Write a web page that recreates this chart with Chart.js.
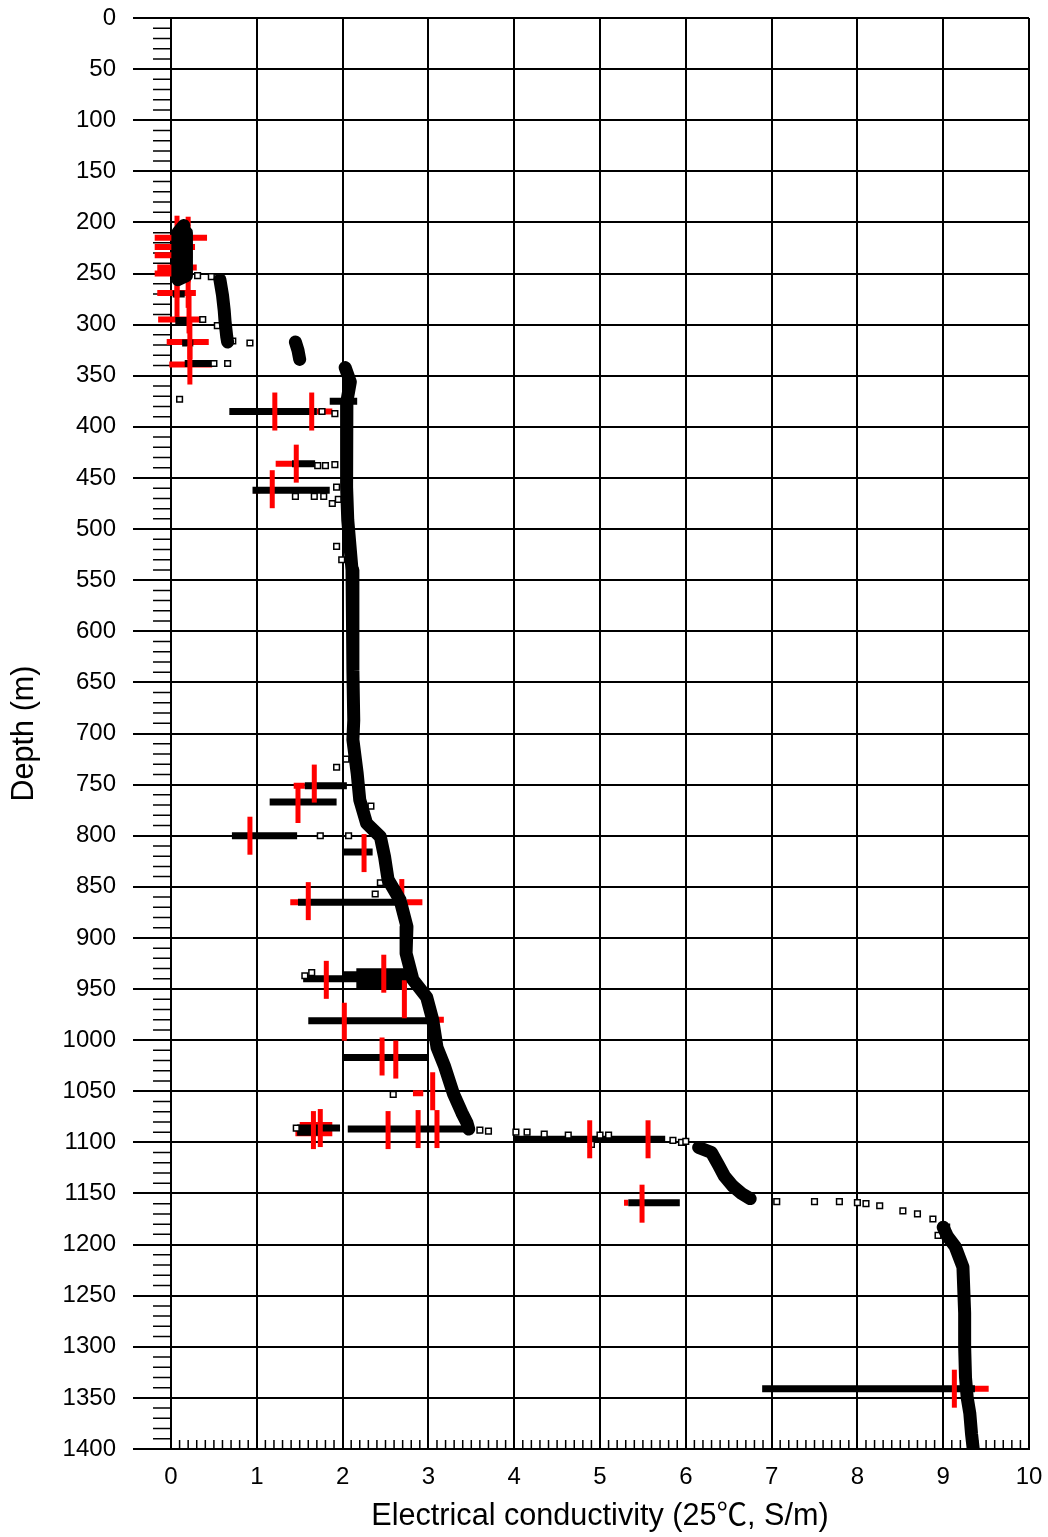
<!DOCTYPE html>
<html>
<head>
<meta charset="utf-8">
<script src="https://cdn.jsdelivr.net/npm/chart.js@4.4.1/dist/chart.umd.min.js"></script>
<style>
  html, body { margin: 0; padding: 0; background: #fff; }
</style>
</head>
<body>
<canvas id="ecChart" width="1048" height="1537"></canvas>
<script>
// 深度ごとの電気伝導度 [伝導度 S/m, 深度 m]
const profileTop = [[0.15, 203], [0.08, 210], [0.08, 256], [0.18, 252], [0.18, 210], [0.12, 206]]
const profileShallow = [[0.57, 256], [0.6, 271], [0.62, 286], [0.63, 297], [0.65, 312], [0.66, 317]]
const profileStep = [[1.45, 317], [1.48, 325], [1.5, 334]]
const profileMain = [
  [2.03, 342], [2.09, 356], [2.05, 375], [2.04, 393], [2.05, 430], [2.05, 459], [2.06, 491],
  [2.11, 540], [2.12, 589], [2.12, 638], [2.13, 687], [2.12, 706], [2.17, 739], [2.2, 765],
  [2.28, 788], [2.44, 801], [2.49, 821], [2.53, 843], [2.67, 863], [2.75, 889], [2.74, 915],
  [2.82, 941], [2.98, 958], [3.05, 980], [3.1, 1007], [3.19, 1026], [3.29, 1052], [3.39, 1071],
  [3.45, 1081], [3.47, 1087]
]
const profileKnee = [[6.15, 1105], [6.3, 1110], [6.38, 1122], [6.45, 1133], [6.55, 1143], [6.65, 1150], [6.75, 1155]]
const profileDeep = [
  [9.0, 1183], [9.05, 1192], [9.14, 1202], [9.23, 1222], [9.25, 1267], [9.25, 1300],
  [9.26, 1330], [9.28, 1350], [9.31, 1365], [9.33, 1385], [9.35, 1400]
]

// 横に連なった測定点 [開始, 終了, 深度]
const streaks = [
  [0.02, 0.16, 270], [0.05, 0.19, 296], [0.13, 0.26, 318], [0.16, 0.51, 338],
  [0.68, 1.7, 385], [1.85, 2.17, 375], [1.41, 1.68, 436], [0.95, 1.85, 462],
  [1.56, 2.05, 751], [1.15, 1.93, 767], [0.71, 1.47, 800], [2.0, 2.35, 816],
  [1.48, 2.73, 865], [1.54, 2.82, 940], [2.16, 2.75, 933], [2.16, 2.75, 946], [2.0, 2.6, 936],
  [1.6, 3.1, 981], [2.0, 3.0, 1017], [2.06, 3.52, 1087], [1.47, 1.97, 1086], [1.47, 1.74, 1090],
  [4.0, 5.76, 1097], [5.33, 5.93, 1159], [6.89, 9.37, 1341]
]

// 単独の測定点
const squares = [
  [0.31, 252], [0.47, 253], [0.37, 295], [0.54, 301], [0.72, 316], [0.92, 318], [0.66, 338],
  [0.5, 338], [0.1, 373], [1.76, 385], [1.91, 387], [1.71, 438], [1.8, 438], [1.91, 437],
  [1.93, 459], [1.88, 475], [1.45, 468], [1.67, 468], [1.78, 468], [1.95, 471], [1.93, 517],
  [1.99, 530], [1.93, 733], [2.04, 725], [2.33, 771], [2.07, 800], [1.74, 800], [2.38, 857],
  [2.44, 846], [1.56, 937], [1.64, 934], [2.59, 1053], [3.6, 1088], [3.7, 1089], [1.46, 1086],
  [4.02, 1090], [4.15, 1090], [4.35, 1092], [4.63, 1093], [5.0, 1093], [5.1, 1093], [4.9, 1102],
  [5.85, 1098], [5.95, 1100], [6.0, 1099], [7.06, 1158], [7.5, 1158], [7.79, 1158], [8.0, 1159],
  [8.1, 1160], [8.26, 1162], [8.53, 1167], [8.7, 1170], [8.88, 1175], [8.94, 1191], [9.04, 1183]
]

// 赤のマーカー: 縦棒 [伝導度, 深度]
const redBars = [
  [0.07, 212], [0.07, 235], [0.07, 255], [0.07, 274],
  [0.2, 213], [0.2, 240], [0.2, 265], [0.21, 290], [0.22, 315], [0.22, 340],
  [1.21, 385], [1.64, 385], [1.46, 436], [1.18, 461], [1.67, 749], [1.48, 769], [0.92, 800],
  [2.25, 817], [1.6, 864], [2.69, 861], [1.81, 941], [2.48, 935], [2.72, 960], [2.02, 982],
  [2.46, 1016], [2.62, 1019], [3.05, 1050], [2.53, 1088], [2.88, 1087], [3.1, 1087],
  [1.66, 1088], [1.74, 1086], [4.88, 1097], [5.56, 1097], [5.49, 1160], [9.13, 1341]
]
// 赤のマーカー: 横棒 [開始, 終了, 深度]
const redSpans = [
  [-0.19, 0.42, 215], [-0.19, 0.28, 224], [-0.19, 0.25, 232], [-0.16, 0.3, 244], [-0.19, 0.16, 250],
  [-0.16, 0.29, 269], [-0.15, 0.34, 295], [-0.05, 0.44, 317], [-0.02, 0.48, 339],
  [1.7, 1.88, 385], [1.22, 1.41, 436], [0.96, 1.04, 462], [1.43, 1.56, 751], [1.39, 1.48, 865],
  [2.75, 2.93, 865], [3.1, 3.18, 980], [2.82, 2.94, 1052], [1.45, 1.88, 1091], [1.5, 1.88, 1083],
  [5.28, 5.33, 1159], [9.1, 9.53, 1341]
]

const xTitle = 'Electrical conductivity (25℃, S/m)'
const yTitle = 'Depth (m)'

const gap = {x: null, y: null}
const pts = (rows) => rows.map(([x, y]) => ({x, y}))
const runs = (list) => list.flatMap((r) => [...pts(r), gap])
const spans = (rows) => rows.flatMap(([x1, x2, y]) => [{x: x1, y}, {x: x2, y}, gap])

const fontFamily = "'Liberation Sans', Arial, 'Noto Sans CJK JP', sans-serif"

// ラベルの分だけ余白が増えないようにする
const fixBox = (size) => (scale) => {
  if (scale.isHorizontal()) scale.height = size
  else scale.width = size
  scale.paddingTop = 0
  scale.paddingBottom = 0
  scale.paddingLeft = 0
  scale.paddingRight = 0
}

// 目盛りの補助線
const minorTicks = {
  id: 'minorTicks',
  beforeDatasetsDraw(chart) {
    const {ctx, chartArea} = chart
    const {x, y} = chart.scales
    ctx.save()
    ctx.strokeStyle = '#000'
    ctx.lineWidth = 1.5
    ctx.beginPath()
    for (let d = 10; d < 1400; d += 10) {
      if (d % 50 === 0) continue
      const py = y.getPixelForValue(d)
      ctx.moveTo(chartArea.left - 18, py)
      ctx.lineTo(chartArea.left, py)
    }
    for (let i = 1; i < 100; i++) {
      if (i % 10 === 0) continue
      const px = x.getPixelForValue(i / 10)
      ctx.moveTo(px, chartArea.bottom)
      ctx.lineTo(px, chartArea.bottom - 9)
    }
    ctx.stroke()
    ctx.restore()
  }
}

new Chart(document.getElementById('ecChart'), {
  type: 'scatter',
  data: {
    datasets: [
      {
        data: runs([profileTop, profileShallow, profileStep, profileMain, profileKnee, profileDeep]),
        showLine: true,
        borderColor: '#000',
        borderWidth: 13,
        borderJoinStyle: 'round',
        borderCapStyle: 'round',
        pointRadius: 0,
        order: 0
      },
      {
        data: pts(redBars),
        pointStyle: 'line',
        pointRotation: 90,
        pointRadius: 19,
        pointBorderWidth: 5,
        pointBorderColor: '#ff0000',
        clip: false,
        order: 1
      },
      {
        data: pts(squares),
        pointStyle: 'rect',
        pointRadius: 4,
        pointBorderWidth: 1.5,
        pointBorderColor: '#000',
        pointBackgroundColor: '#fff',
        order: 2
      },
      {
        data: spans(streaks),
        showLine: true,
        borderColor: '#000',
        borderWidth: 7,
        pointRadius: 0,
        order: 3
      },
      {
        data: spans(redSpans),
        showLine: true,
        borderColor: '#ff0000',
        borderWidth: 6,
        pointRadius: 0,
        clip: false,
        order: 4
      }
    ]
  },
  options: {
    responsive: false,
    animation: false,
    events: [],
    layout: {autoPadding: false, padding: {top: 18, right: 19, bottom: 0, left: 0}},
    plugins: {
      legend: {display: false},
      tooltip: {enabled: false}
    },
    scales: {
      x: {
        type: 'linear',
        position: 'bottom',
        min: 0,
        max: 10,
        afterFit: fixBox(88),
        ticks: {
          stepSize: 1,
          autoSkip: false,
          maxRotation: 0,
          padding: 14,
          color: '#000',
          font: {family: fontFamily, size: 24},
          callback: (value) => String(value)
        },
        grid: {color: '#000', lineWidth: 2, drawTicks: false},
        border: {color: '#000', width: 2},
        title: {
          display: true,
          text: xTitle,
          color: '#000',
          padding: {top: 0, bottom: 2},
          font: {family: fontFamily, size: 30.6}
        }
      },
      y: {
        type: 'linear',
        reverse: true,
        min: 0,
        max: 1400,
        afterFit: fixBox(171),
        ticks: {
          stepSize: 50,
          autoSkip: false,
          padding: 17,
          color: '#000',
          font: {family: fontFamily, size: 24},
          callback: (value) => String(value)
        },
        grid: {color: '#000', lineWidth: 2, tickLength: 38, tickColor: '#000'},
        border: {color: '#000', width: 2},
        title: {
          display: true,
          text: yTitle,
          color: '#000',
          padding: {top: 6, bottom: 0},
          font: {family: fontFamily, size: 30.6}
        }
      }
    }
  },
  plugins: [minorTicks]
})
</script>
</body>
</html>
